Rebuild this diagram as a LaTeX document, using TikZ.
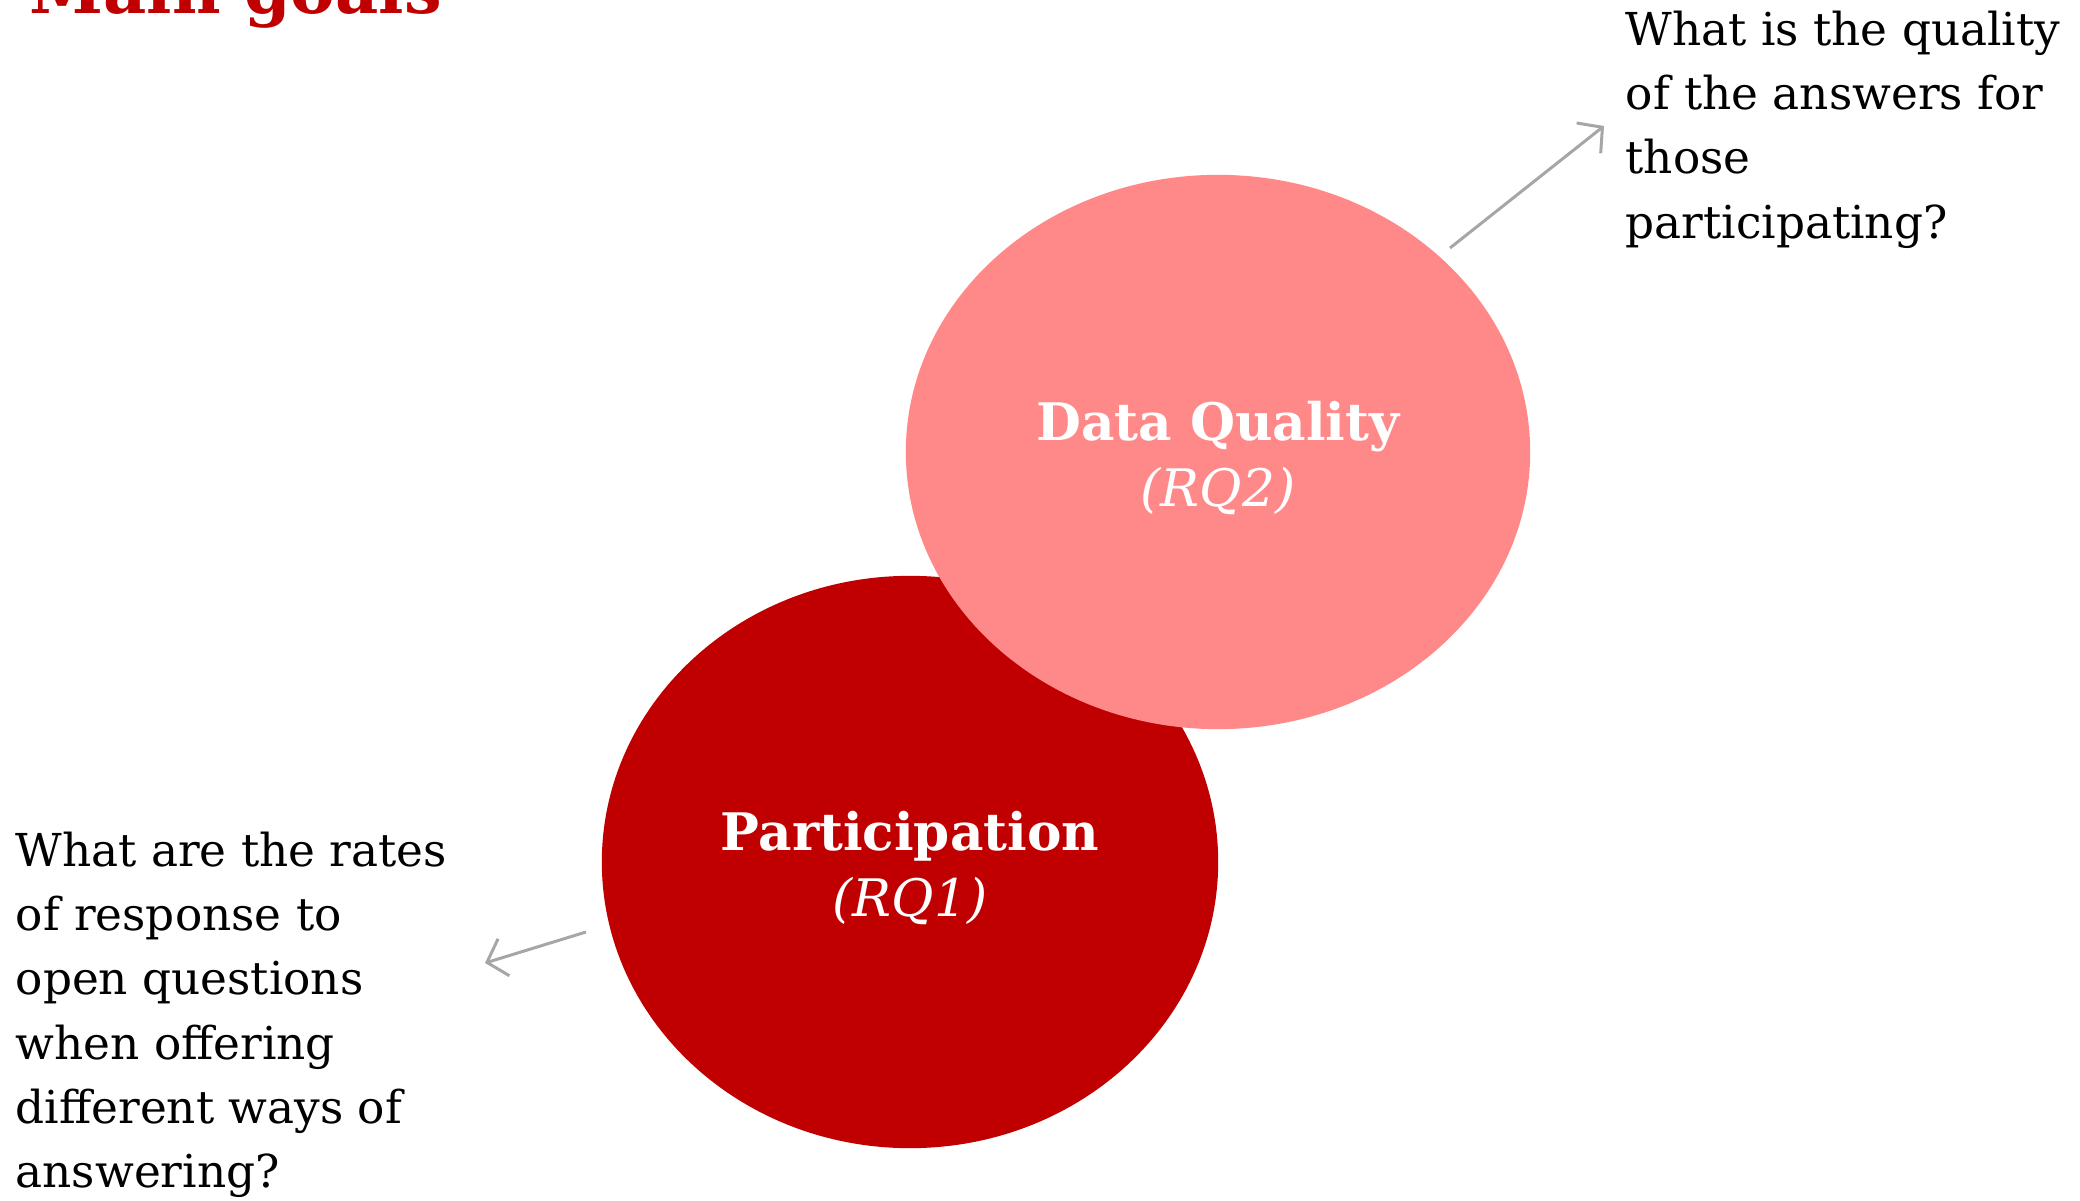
\documentclass[tikz,border=0pt]{standalone}
\usepackage{fontspec}
\setmainfont{DejaVu Serif}
\usetikzlibrary{shapes.geometric,arrows.meta}
\definecolor{darkred}{HTML}{C00000}
\definecolor{salmon}{HTML}{FF8989}
\definecolor{arrowgray}{HTML}{A6A6A6}
\begin{document}
\begin{tikzpicture}[
    x=0.01cm, y=-0.01cm,
    goal/.style={ellipse, draw=none, inner sep=0pt},
    goaltext/.style={text=white, align=center, inner sep=0pt, yshift=-0.06cm,
      font=\fontsize{14.7pt}{18.8pt}\selectfont\bfseries},
    question/.style={anchor=north west, align=left, inner sep=0pt,
      font=\fontsize{12.9pt}{18.3pt}\selectfont},
    conn/.style={-{Straight Barb[length=5pt,width=11pt]}, draw=arrowgray, line width=0.85pt}
  ]
    \useasboundingbox (0,0) rectangle (2080,1201);

    \node[anchor=base west, inner sep=0pt, text=darkred,
      font=\fontsize{19pt}{22pt}\selectfont\bfseries] (title) at (29,14) {Main goals};

    \node[goal, fill=darkred, minimum width=6.16cm, minimum height=5.72cm] (part) at (910,862) {};
    \node[goal, fill=salmon, minimum width=6.24cm, minimum height=5.54cm] (dq) at (1218,452) {};
    \node[goaltext] (parttext) at (part.center) {Participation\\ \mdseries\itshape (RQ1)};
    \node[goaltext] (dqtext) at (dq.center) {Data Quality\\ \mdseries\itshape (RQ2)};

    \node[question] (qdq) at (1625,10) {What is the quality\\ of the answers for\\ those\\ participating?};
    \node[question] (qpart) at (15,831) {What are the rates\\ of response to\\ open questions\\ when offering\\ different ways of\\ answering?};

    \coordinate (dqout) at (1450,248);
    \coordinate (dqtip) at (1604,126);
    \coordinate (partout) at (586,932);
    \coordinate (parttip) at (485,963);

    \draw[conn] (dqout) -- (dqtip);
    \draw[conn] (partout) -- (parttip);

  \end{tikzpicture}
\end{document}
